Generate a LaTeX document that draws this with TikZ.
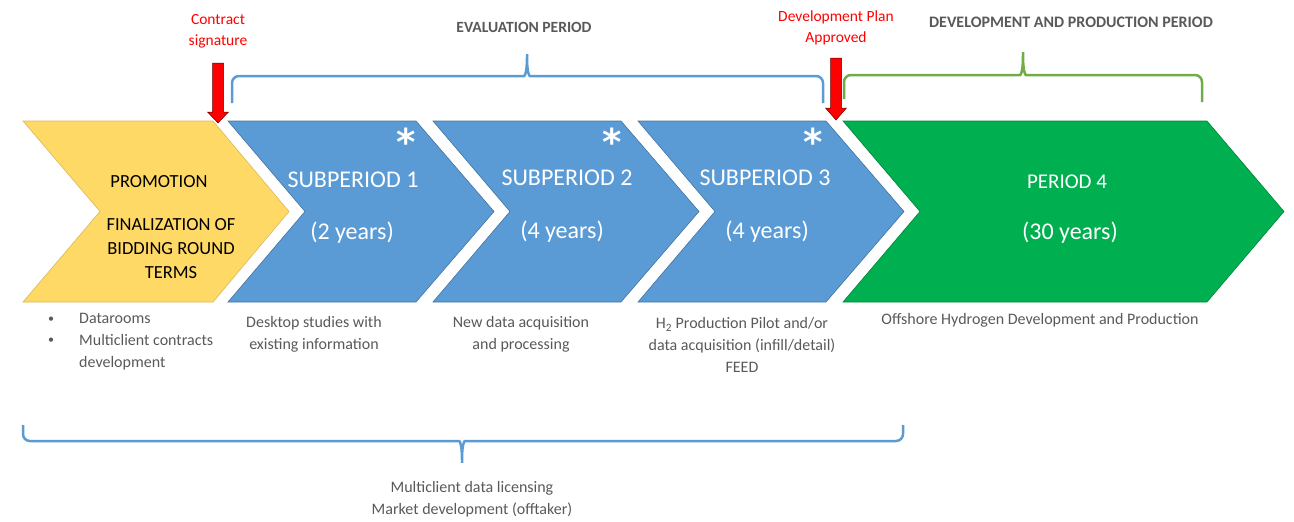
\documentclass[tikz,border=0pt]{standalone}
\usepackage{fontspec}
\setmainfont{Carlito}
\newfontfamily\starfont{DejaVu Sans}
\usepackage{tikz}
\usetikzlibrary{calc}
\definecolor{promoyellow}{HTML}{FFD966}
\definecolor{evalblue}{HTML}{5B9BD5}
\definecolor{prodgreen}{HTML}{00B050}
\definecolor{bracegreen}{HTML}{70AD47}
\definecolor{notegray}{HTML}{595959}

\begin{document}
\begin{tikzpicture}[x=1pt, y=-1pt,
		every node/.style={inner sep=0pt},
		phase/.style={line width=0.6pt, line join=miter},
		label/.style={font=\fontsize{24}{28}\selectfont, text=white},
		promotext/.style={font=\fontsize{18.5}{24}\selectfont, text=black, align=center},
		note/.style={font=\fontsize{16}{22}\selectfont, text=notegray, align=center},
		head/.style={font=\bfseries\fontsize{15.6}{18}\selectfont, text=notegray},
		milestone/.style={font=\fontsize{15.5}{21}\selectfont, text=red, align=center},
		star/.style={font=\starfont\bfseries\fontsize{37}{37}\selectfont, text=white, anchor=north, text depth=0pt},
		bracket/.style={line width=2.5pt, rounded corners=7pt},
		marker/.style={fill=red, draw=red!40!black, line width=0.5pt}]
				\useasboundingbox (0,0) rectangle (1294,522);
				% phase chevrons
				\draw[phase, fill=promoyellow, draw=promoyellow!85!black] (23,121) -- (213,121) -- (289,211.5) -- (213,302) -- (23,302) -- (100,211.5) -- cycle;
				\draw[phase, fill=evalblue, draw=evalblue!75!black] (228,121) -- (416,121) -- (494,211.5) -- (416,302) -- (228,302) -- (305,211.5) -- cycle;
				\draw[phase, fill=evalblue, draw=evalblue!75!black] (433,121) -- (621,121) -- (699,211.5) -- (621,302) -- (433,302) -- (510,211.5) -- cycle;
				\draw[phase, fill=evalblue, draw=evalblue!75!black] (638,121) -- (826,121) -- (904,211.5) -- (826,302) -- (638,302) -- (715,211.5) -- cycle;
				\draw[phase, fill=prodgreen, draw=prodgreen!75!black] (843,121) -- (1207,121) -- (1284,211.5) -- (1207,302) -- (843,302) -- (920,211.5) -- cycle;
				% texts inside the chevrons
				\node[promotext] (promo) at (159,182) {PROMOTION};
				\node[promotext] (terms) at (171,249) {FINALIZATION OF\\BIDDING ROUND\\TERMS};
				\node[label] (sub1) at (353,180) {SUBPERIOD 1};
				\node[label] (dur1) at (352,233) {(2 years)};
				\node[label] (sub2) at (567,178) {SUBPERIOD 2};
				\node[label] (dur2) at (562,232) {(4 years)};
				\node[label] (sub3) at (765,178) {SUBPERIOD 3};
				\node[label] (dur3) at (767,232) {(4 years)};
				\node[label, font=\fontsize{21}{26}\selectfont] (per4) at (1067,182) {PERIOD 4};
				\node[label] (dur4) at (1070,233) {(30 years)};
				\node[star] (star1) at (406,128) {*};
				\node[star] (star2) at (612,128) {*};
				\node[star] (star3) at (813,128) {*};
				% milestones
				\node[milestone] (sign) at (218,31.5) {Contract\\signature};
				\node[milestone] (plan) at (836,28) {Development Plan\\Approved};
				\coordinate (signtip) at (218,123);
				\coordinate (plantip) at (836,120);
				\draw[marker] (signtip) -- ++(-10.5,-11) -- ++(5,0) -- ++(0,-49) -- ++(11,0) -- ++(0,49) -- ++(5,0) -- cycle;
				\draw[marker] (plantip) -- ++(-10.5,-12) -- ++(5,0) -- ++(0,-50) -- ++(11,0) -- ++(0,50) -- ++(5,0) -- cycle;
				% period brackets
				\node[head] (evalhead) at (524,27) {EVALUATION PERIOD};
				\node[head, font=\bfseries\fontsize{16}{18}\selectfont] (prodhead) at (1071,22) {DEVELOPMENT AND PRODUCTION PERIOD};
				\draw[bracket, evalblue] (232,103) -- (232,76) -- (517,76) .. controls (525,76) and (527,72) .. (527,50) .. controls (527,72) and (529,76) .. (537,76) -- (823,76) -- (823,103);
				\draw[bracket, bracegreen] (844,99) -- (844,75) -- (1013,75) .. controls (1021,75) and (1023,71) .. (1023,48) .. controls (1023,71) and (1025,75) .. (1033,75) -- (1202,75) -- (1202,102);
				\draw[bracket, evalblue] (23,425) -- (23,441) -- (452,441) .. controls (460,441) and (462,445) .. (462,467) .. controls (462,445) and (464,441) .. (472,441) -- (903,441) -- (903,425);
				% notes under the chevrons
				\node[note, font=\fontsize{12}{14}\selectfont] (bull1) at (51,320) {\textbullet};
				\node[note, font=\fontsize{12}{14}\selectfont] (bull2) at (51,341) {\textbullet};
				\node[note, align=left, anchor=west] (promonote) at (79,342) {Datarooms\\Multiclient contracts\\development};
				\node[note] (note1) at (314,334) {Desktop studies with\\existing information};
				\node[note] (note2) at (521,334) {New data acquisition\\and processing};
				\node[note] (note3) at (742,345) {H\textsubscript{2} Production Pilot and/or\\data acquisition (infill/detail)\\FEED};
				\node[note] (note4) at (1040,320) {Offshore Hydrogen Development and Production};
				\node[note] (licence) at (472,499.5) {Multiclient data licensing\\Market development (offtaker)};
		\end{tikzpicture}
\end{document}
